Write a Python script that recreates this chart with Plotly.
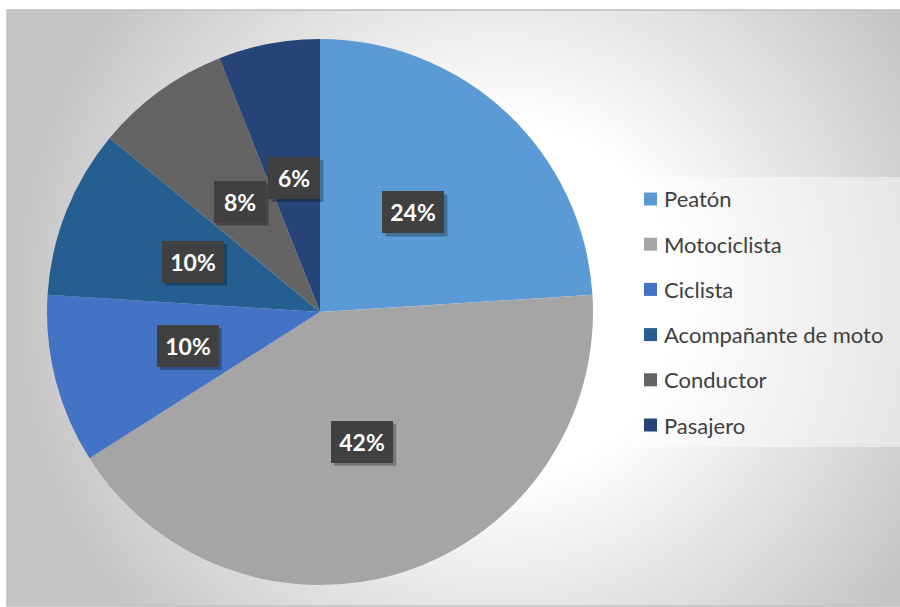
import base64
import math
import plotly.graph_objects as go

# Víctimas por tipo de usuario vial (porcentaje)
categorias = ["Peatón", "Motociclista", "Ciclista", "Acompañante de moto", "Conductor", "Pasajero"]
porcentajes = [24, 42, 10, 10, 8, 6]
colores = ["#5B9BD5", "#A5A5A5", "#4472C4", "#255E91", "#636363", "#264478"]

W, H = 900, 607
FONT = "Lato, 'Open Sans', sans-serif"

# chart area (pixels)
area_x0, area_y0, area_x1, area_y1 = 7, 10, 900, 606

# pie geometry (pixels, from top-left)
pie_cx, pie_cy, pie_r = 320, 312, 273

# radial gradient background as an inline SVG image
aw, ah = area_x1 - area_x0, area_y1 - area_y0
svg = f"""<svg xmlns='http://www.w3.org/2000/svg' width='{aw}' height='{ah}'>
<defs><radialGradient id='g' gradientUnits='userSpaceOnUse' cx='{500 - area_x0}' cy='{300 - area_y0}' r='490'>
<stop offset='0.36' stop-color='#ffffff'/><stop offset='1' stop-color='#c4c4c4'/></radialGradient></defs>
<rect width='{aw}' height='{ah}' fill='url(#g)'/></svg>"""
bg_uri = "data:image/svg+xml;base64," + base64.b64encode(svg.encode()).decode()


def px(x):
    return x / W


def py(y):
    return 1 - y / H


fig = go.Figure()
fig.add_trace(go.Pie(
    labels=categorias,
    values=porcentajes,
    sort=False,
    direction="clockwise",
    rotation=0,
    marker=dict(colors=colores, line=dict(width=0)),
    textinfo="none",
    hovertemplate="%{label}: %{value}%<extra></extra>",
    domain=dict(x=[px(pie_cx - pie_r), px(pie_cx + pie_r)],
                y=[py(pie_cy + pie_r), py(pie_cy - pie_r)]),
    showlegend=False,
))

annotations = []
shapes = []

# data labels at half radius, centred on each slice's mid-angle
total = sum(porcentajes)
acum = 0
PAD = 7
for v in porcentajes:
    mid = (acum + v / 2) / total * 2 * math.pi
    acum += v
    lx = pie_cx + 0.5 * pie_r * math.sin(mid)
    ly = pie_cy - 0.5 * pie_r * math.cos(mid)
    texto = f"{v}%"
    bw = 48 if len(texto) > 2 else 38
    bh = 28
    fw, fh = bw + 2 * PAD, bh + 2 * PAD
    # soft drop shadow behind the label box
    shapes.append(dict(type="rect", xref="paper", yref="paper",
                       xsizemode="pixel", ysizemode="pixel",
                       xanchor=px(lx), yanchor=py(ly),
                       x0=-fw / 2 + 3, x1=fw / 2 + 3, y0=-fh / 2 - 3, y1=fh / 2 - 3,
                       fillcolor="rgba(0,0,0,0.28)", line=dict(width=0)))
    annotations.append(dict(x=px(lx), y=py(ly), xref="paper", yref="paper",
                            text=f"<b>{texto}</b>", showarrow=False,
                            width=bw, height=bh, borderpad=PAD, borderwidth=0,
                            xanchor="center", yanchor="middle", align="center",
                            bgcolor="#404040",
                            font=dict(family=FONT, size=23, color="#ffffff")))

# legend panel
shapes.append(dict(type="rect", xref="paper", yref="paper",
                   x0=px(632), x1=px(900), y0=py(447), y1=py(177),
                   fillcolor="rgba(255,255,255,0.45)", line=dict(width=0), layer="below"))
row0, paso = 199, 45.2
for i, (cat, col) in enumerate(zip(categorias, colores)):
    yc = row0 + i * paso
    shapes.append(dict(type="rect", xref="paper", yref="paper",
                       x0=px(644), x1=px(657), y0=py(yc + 6.5), y1=py(yc - 6.5),
                       fillcolor=col, line=dict(width=0)))
    annotations.append(dict(x=px(662), y=py(yc), xref="paper", yref="paper", text=cat,
                            showarrow=False, xanchor="left", yanchor="middle",
                            font=dict(family=FONT, size=22, color="#404040")))

# chart area border
shapes.append(dict(type="rect", xref="paper", yref="paper",
                   x0=px(area_x0), x1=px(area_x1 + 2), y0=py(area_y1), y1=py(area_y0),
                   line=dict(color="#bfbfbf", width=1.5), fillcolor="rgba(0,0,0,0)"))

fig.update_layout(
    width=W, height=H,
    margin=dict(l=0, r=0, t=0, b=0),
    paper_bgcolor="#ffffff",
    plot_bgcolor="rgba(0,0,0,0)",
    showlegend=False,
    images=[dict(source=bg_uri, xref="paper", yref="paper",
                 x=px(area_x0), y=py(area_y0), sizex=aw / W, sizey=ah / H,
                 xanchor="left", yanchor="top", sizing="stretch", layer="below")],
    shapes=shapes,
    annotations=annotations,
)

fig.write_html("out.html")
